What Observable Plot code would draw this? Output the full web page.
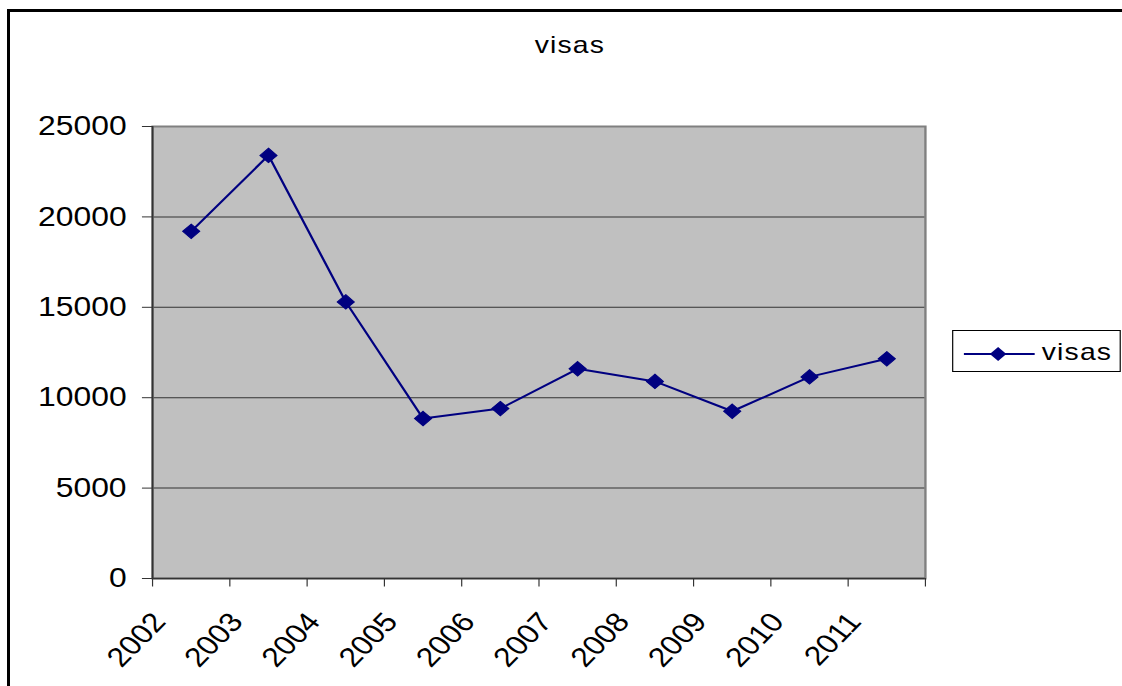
<!DOCTYPE html>
<html>
<head>
<meta charset="utf-8">
<script src="https://cdn.jsdelivr.net/npm/d3@7"></script>
<script src="https://cdn.jsdelivr.net/npm/@observablehq/plot@0.6"></script>
<style>
  html, body { margin: 0; padding: 0; background: #fff; width: 1122px; height: 686px; overflow: hidden; }
  #border { position: absolute; left: 7px; top: 9px; width: 1400px; height: 1000px; border: 3px solid #000; }
  #stage { position: absolute; left: 0; top: 0; width: 951px; height: 686px; transform: scaleX(1.1798); transform-origin: 0 0;
           font-family: "Liberation Sans", Arial, sans-serif; color: #000; }
  #title { position: absolute; left: 383px; width: 200px; top: 32.7px; text-align: center; font-size: 24px; line-height: 24px; letter-spacing: 1px; }
  #legend { position: absolute; left: 807px; top: 330px; width: 141px; height: 40px; border: 1px solid #000; background: #fff; }
  #legend svg { position: absolute; left: 0; top: 0; }
  #legend span { position: absolute; left: 75px; top: 8.5px; font-size: 24px; line-height: 24px; letter-spacing: 1px; }
  #chart { position: absolute; left: 0; top: 0; }
</style>
</head>
<body>
<div id="border"></div>
<div id="stage">
  <div id="chart"></div>
  <div id="title"></div>
  <div id="legend"></div>
</div>
<script>
// ---- data ----
const years = ["2002", "2003", "2004", "2005", "2006", "2007", "2008", "2009", "2010", "2011"];
const visas = [19200, 23400, 15300, 8850, 9400, 11600, 10900, 9250, 11150, 12150];
const yTicks = [0, 5000, 10000, 15000, 20000, 25000];
const seriesName = "visas";
const titleText = "visas";

const data = years.map((year, i) => ({ year, i, value: visas[i] }));
const W = 951;

const chart = Plot.plot({
  width: W,
  height: 686,
  marginLeft: 128.8,
  marginRight: W - 783.9,
  marginTop: 126,
  marginBottom: 108,
  style: { fontFamily: "'Liberation Sans', Arial, sans-serif", fontSize: "27px", color: "#000", background: "transparent", overflow: "visible" },
  x: { type: "linear", domain: [0, years.length], axis: null },
  y: { domain: [0, 25000], axis: null },
  marks: [
    Plot.frame({ fill: "#c0c0c0", stroke: "none" }),
    Plot.gridY(yTicks, { stroke: "#333", strokeOpacity: 1, strokeWidth: 1 }),
    Plot.frame({ stroke: "#808080", strokeWidth: 2, fill: "none" }),
    Plot.axisY(yTicks, { tickSize: 8.5, tickPadding: 13.5, tickFormat: d => String(d), stroke: "#333", fontSize: 27, label: null }),
    Plot.axisX(d3.range(0, years.length + 1), { tickSize: 8.5, tickFormat: () => "", stroke: "#333", label: null }),
    Plot.axisX(data.map(d => d.i + 0.5), {
      tickSize: 0, tickPadding: 0, tickRotate: -50, textAnchor: "end", lineAnchor: "middle",
      tickFormat: v => years[Math.floor(v)], dx: -27, dy: 38.5, label: null, fontSize: 27
    }),
    Plot.ruleX([0], { stroke: "#333", strokeWidth: 1.5 }),
    Plot.ruleY([0], { stroke: "#333", strokeWidth: 1.5 }),
    Plot.line(data, { x: d => d.i + 0.5, y: "value", stroke: "#000080", strokeWidth: 2 }),
    Plot.dot(data, { x: d => d.i + 0.5, y: "value", symbol: "diamond2", r: 6.5, fill: "#000080", stroke: "#000080", strokeWidth: 1 })
  ]
});
document.getElementById("chart").appendChild(chart);

document.getElementById("title").textContent = titleText;

const legend = document.getElementById("legend");
const ns = "http://www.w3.org/2000/svg";
const sw = document.createElementNS(ns, "svg");
sw.setAttribute("width", "141");
sw.setAttribute("height", "40");
const ln = document.createElementNS(ns, "line");
ln.setAttribute("x1", "9"); ln.setAttribute("x2", "69");
ln.setAttribute("y1", "23"); ln.setAttribute("y2", "23");
ln.setAttribute("stroke", "#000080"); ln.setAttribute("stroke-width", "2");
sw.appendChild(ln);
const dm = document.createElementNS(ns, "path");
dm.setAttribute("d", "M38,16L45,23L38,30L31,23Z");
dm.setAttribute("fill", "#000080");
sw.appendChild(dm);
legend.appendChild(sw);
const lt = document.createElement("span");
lt.textContent = seriesName;
legend.appendChild(lt);
</script>
</body>
</html>
